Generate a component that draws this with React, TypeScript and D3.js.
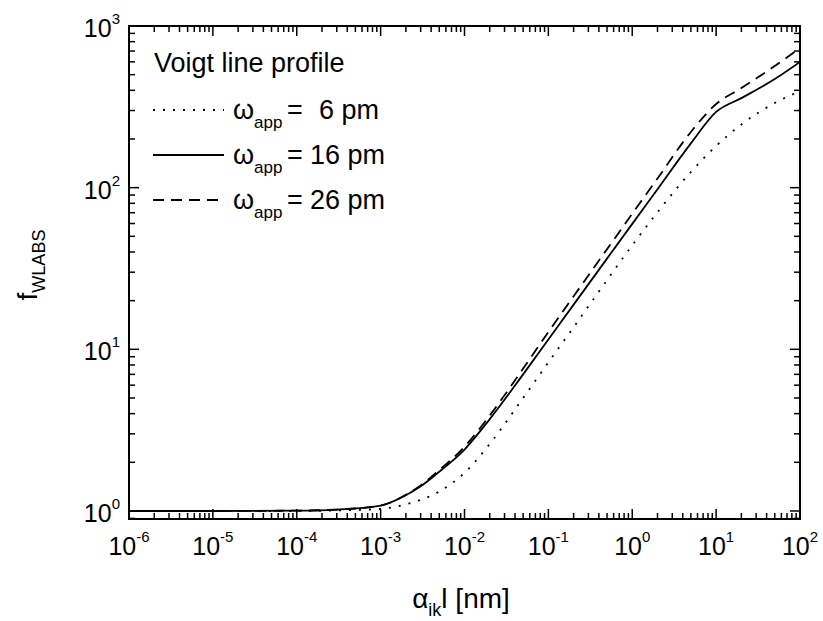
import React from "react";
import * as d3 from "d3";

const alphaL = [1e-6, 1e-5, 1e-4, 3e-4, 1e-3, 2e-3, 3e-3, 5e-3, 1e-2, 2e-2, 5e-2, 0.1, 0.2, 0.5, 1, 2, 5, 10, 20, 50, 100];
const f6 = [1.0, 1.0, 1.0, 1.008, 1.03, 1.1, 1.17, 1.32, 1.72, 2.6, 5.0, 8.3, 13.7, 26.8, 44, 70.5, 125, 181, 246, 334, 395];
const f16 = [1.0, 1.0, 1.005, 1.02, 1.08, 1.25, 1.42, 1.75, 2.4, 3.7, 7.0, 11.5, 18.9, 36.4, 59.7, 97.8, 188, 294, 358, 470, 600];
const f26 = [1.0, 1.0, 1.005, 1.02, 1.08, 1.26, 1.44, 1.79, 2.5, 3.9, 7.6, 12.8, 21.3, 41.6, 69, 114, 221, 329, 413, 565, 730];

const seriesLabels = ["6 pm", "16 pm", "26 pm"];
const xTickExps = [-6, -5, -4, -3, -2, -1, 0, 1, 2];
const yTickExps = [0, 1, 2, 3];

const W = 823, H = 621;
const L = 129, R = 800, T = 26, B = 519;
const FONT = "'Liberation Sans', Arial, Helvetica, sans-serif";

export default function App() {
  const x = d3.scaleLog().domain([1e-6, 100]).range([L, R]);
  const y = d3.scaleLog().domain([0.892, 1000]).range([B, T]);

  const series = [
    { vals: f6, dash: "2,8", label: seriesLabels[0] },
    { vals: f16, dash: null, label: seriesLabels[1] },
    { vals: f26, dash: "11,7", label: seriesLabels[2] },
  ];

  const line = d3
    .line<[number, number]>()
    .x((d) => x(d[0]))
    .y((d) => y(d[1]))
    .curve(d3.curveMonotoneX);

  const xMinor: number[] = [];
  for (let e = -6; e < 2; e++) for (let m = 2; m <= 9; m++) xMinor.push(m * Math.pow(10, e));
  const yMinor: number[] = [];
  for (let e = -1; e < 3; e++)
    for (let m = 2; m <= 9; m++) {
      const v = m * Math.pow(10, e);
      if (v > 0.892 && v < 1000) yMinor.push(v);
    }

  const legendY = [110, 155, 200];
  const numX = [319, 310, 310];

  return (
    <svg width={W} height={H} style={{ position: "absolute", left: 0, top: 0, background: "#fff" }} fontFamily={FONT}>
      <rect x={0} y={0} width={W} height={H} fill="#fff" />
      <defs>
        <clipPath id="plot">
          <rect x={L} y={T} width={R - L} height={B - T} />
        </clipPath>
      </defs>
      {/* curves */}
      <g clipPath="url(#plot)">
        {series.map((s, i) => (
          <path
            key={i}
            d={line(alphaL.map((a, j) => [a, s.vals[j]] as [number, number])) || ""}
            fill="none"
            stroke="#000"
            strokeWidth={1.8}
            strokeDasharray={s.dash || undefined}
          />
        ))}
      </g>
      {/* ticks */}
      <g stroke="#000" strokeWidth={1.5}>
        {xTickExps.map((e) => {
          const px = x(Math.pow(10, e));
          return (
            <g key={"xt" + e}>
              <line x1={px} x2={px} y1={B} y2={B - 10} />
              <line x1={px} x2={px} y1={T} y2={T + 10} />
            </g>
          );
        })}
        {xMinor.map((v, i) => {
          const px = x(v);
          return (
            <g key={"xm" + i}>
              <line x1={px} x2={px} y1={B} y2={B - 6} />
              <line x1={px} x2={px} y1={T} y2={T + 6} />
            </g>
          );
        })}
        {yTickExps.map((e) => {
          const py = y(Math.pow(10, e));
          return (
            <g key={"yt" + e}>
              <line x1={L} x2={L + 10} y1={py} y2={py} />
              <line x1={R} x2={R - 10} y1={py} y2={py} />
            </g>
          );
        })}
        {yMinor.map((v, i) => {
          const py = y(v);
          return (
            <g key={"ym" + i}>
              <line x1={L} x2={L + 6} y1={py} y2={py} />
              <line x1={R} x2={R - 6} y1={py} y2={py} />
            </g>
          );
        })}
      </g>
      <rect x={L} y={T} width={R - L} height={B - T} fill="none" stroke="#000" strokeWidth={2} />
      {/* x tick labels */}
      {xTickExps.map((e) => (
        <text key={"xl" + e} x={x(Math.pow(10, e))} y={555} textAnchor="middle" fontSize={25} fill="#000">
          <tspan>10</tspan>
          <tspan fontSize={15} dy={-13}>{String(e)}</tspan>
        </text>
      ))}
      {/* y tick labels */}
      {yTickExps.map((e) => (
        <text key={"yl" + e} x={120} y={y(Math.pow(10, e)) + 11} textAnchor="end" fontSize={25} fill="#000">
          <tspan>10</tspan>
          <tspan fontSize={15} dy={-13}>{String(e)}</tspan>
        </text>
      ))}
      {/* axis titles */}
      <text x={461} y={608} textAnchor="middle" fontSize={28} fill="#000">
        <tspan>α</tspan>
        <tspan fontSize={18} dy={8}>ik</tspan>
        <tspan dy={-8}>l [nm]</tspan>
      </text>
      <text transform={`translate(37,265) rotate(-90)`} textAnchor="middle" fontSize={28} fill="#000">
        <tspan>f</tspan>
        <tspan fontSize={18} dy={8}>WLABS</tspan>
      </text>
      {/* legend */}
      <text x={154} y={72} fontSize={27} fill="#000">Voigt line profile</text>
      {series.map((s, i) => (
        <g key={"lg" + i}>
          <line
            x1={153}
            x2={224}
            y1={legendY[i]}
            y2={legendY[i]}
            stroke="#000"
            strokeWidth={1.8}
            strokeDasharray={s.dash || undefined}
          />
          <text x={233} y={legendY[i] + 9} fontSize={27} fill="#000">
            <tspan>ω</tspan>
            <tspan fontSize={17} dy={9}>app</tspan>
          </text>
          <text x={287} y={legendY[i] + 9} fontSize={27} fill="#000">=</text>
          <text x={numX[i]} y={legendY[i] + 9} fontSize={27} fill="#000">{s.label}</text>
        </g>
      ))}
    </svg>
  );
}
